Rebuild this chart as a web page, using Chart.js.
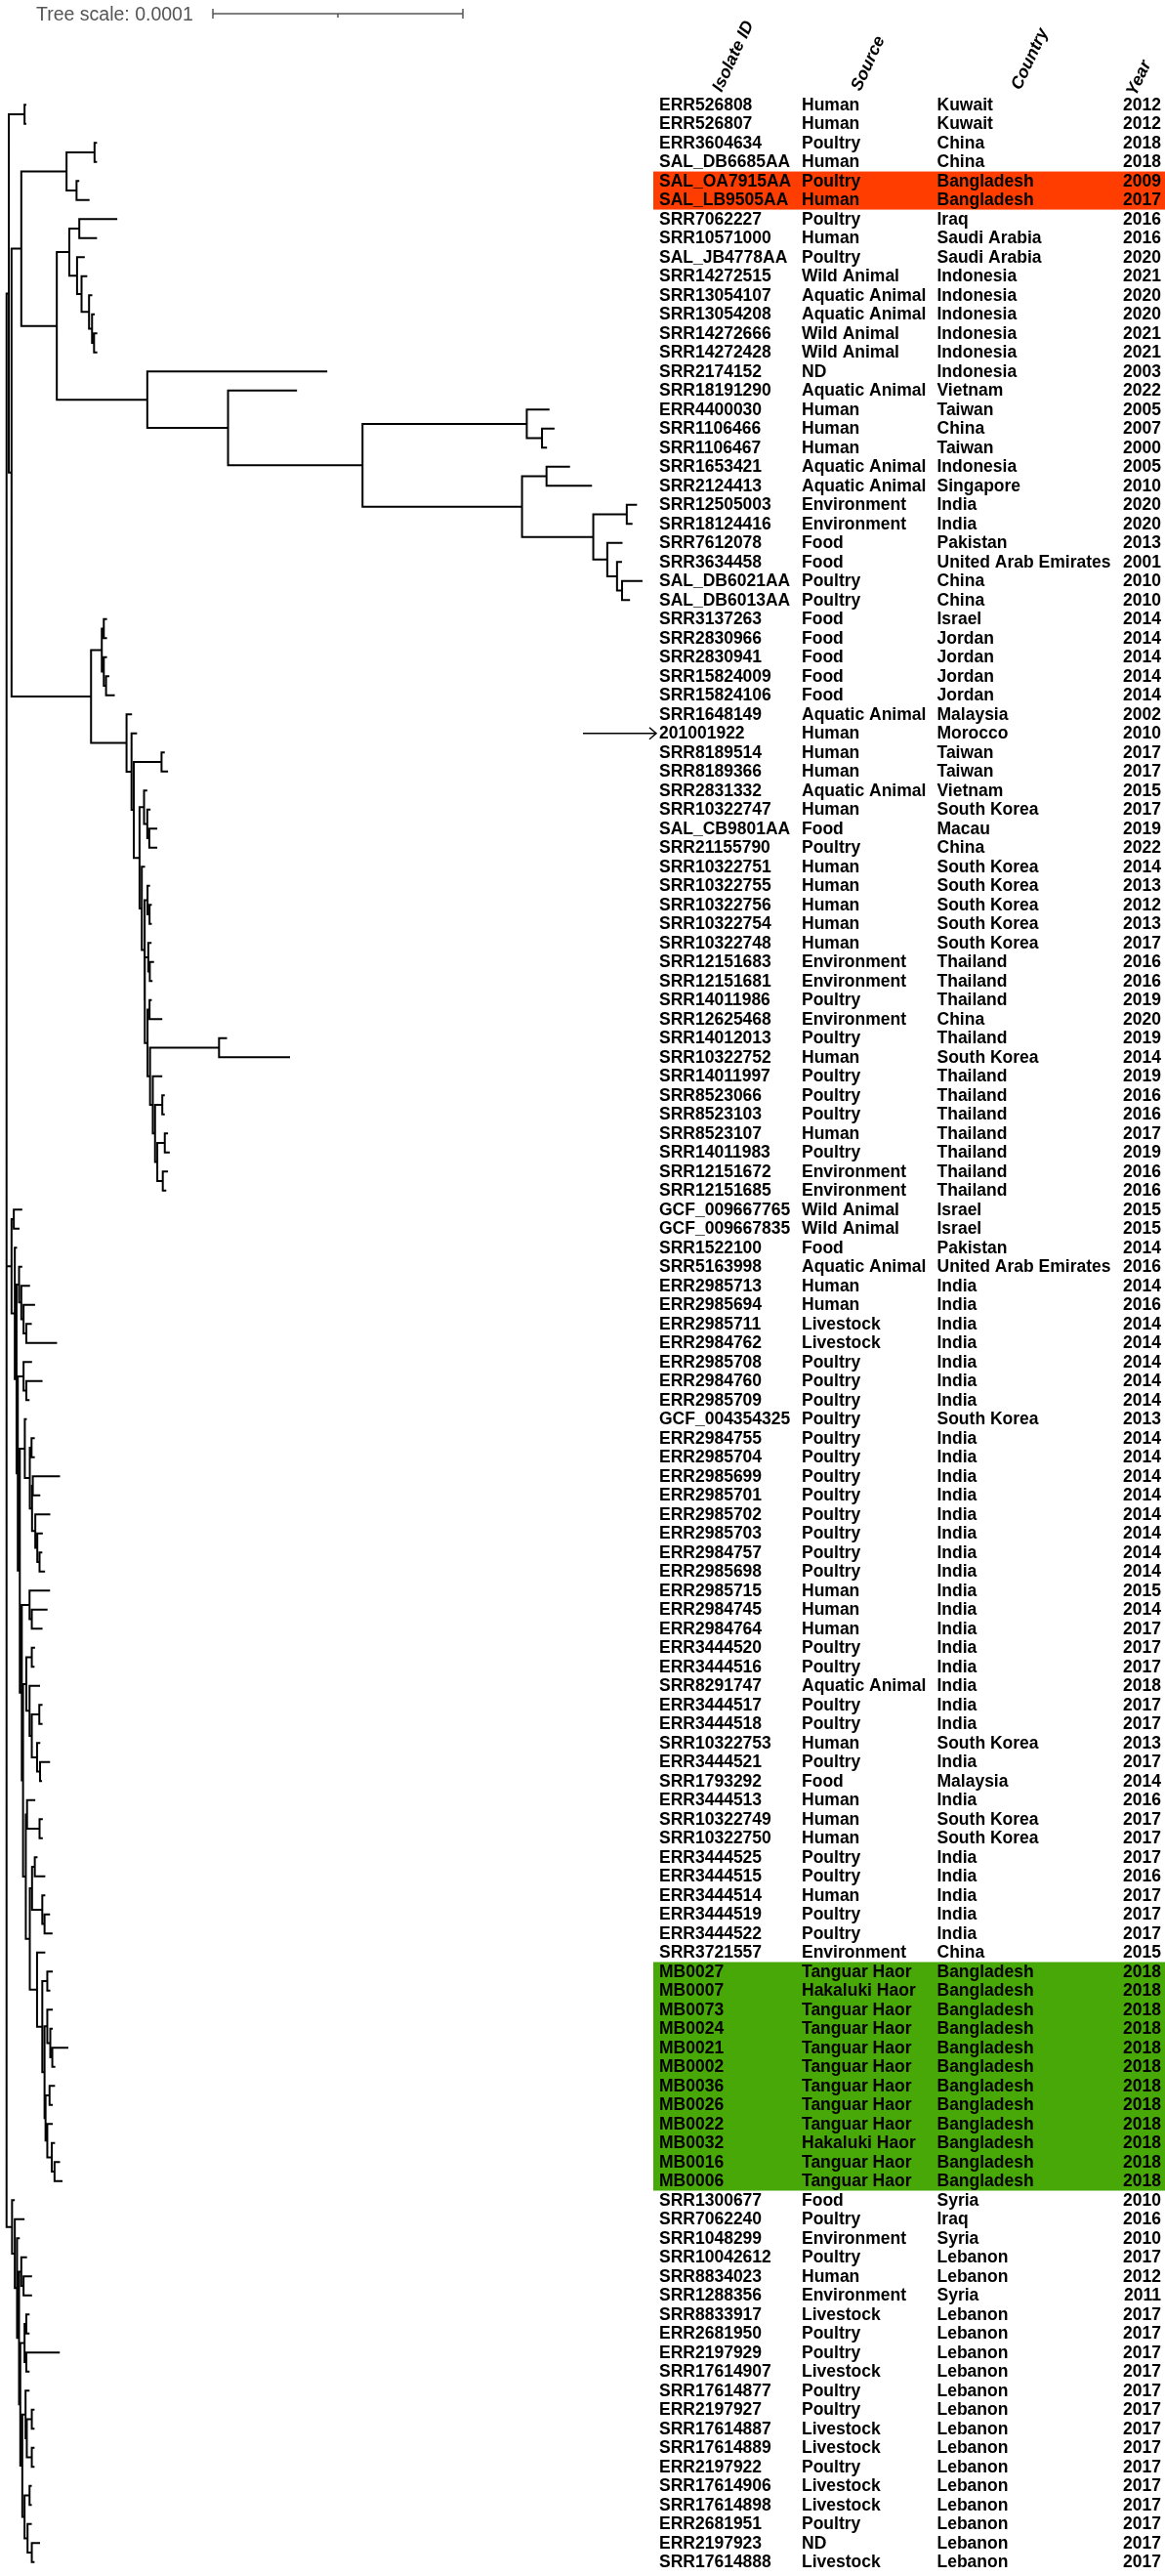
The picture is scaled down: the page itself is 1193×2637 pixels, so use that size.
<!DOCTYPE html>
<html>
<head>
<meta charset="utf-8">
<script src="https://cdn.jsdelivr.net/npm/chart.js@4.4.1/dist/chart.umd.min.js"></script>
<style>
  html, body { margin: 0; padding: 0; background: #fff; overflow: hidden; }
  #wrap { position: relative; width: 1193px; height: 2637px; }
</style>
</head>
<body>
<div id="wrap"><canvas id="treeChart"></canvas></div>
<script>
// tip labels, top to bottom
const isolateIds = ["ERR526808","ERR526807","ERR3604634","SAL_DB6685AA","SAL_OA7915AA","SAL_LB9505AA","SRR7062227","SRR10571000","SAL_JB4778AA","SRR14272515",
  "SRR13054107","SRR13054208","SRR14272666","SRR14272428","SRR2174152","SRR18191290","ERR4400030","SRR1106466","SRR1106467","SRR1653421",
  "SRR2124413","SRR12505003","SRR18124416","SRR7612078","SRR3634458","SAL_DB6021AA","SAL_DB6013AA","SRR3137263","SRR2830966","SRR2830941",
  "SRR15824009","SRR15824106","SRR1648149","201001922","SRR8189514","SRR8189366","SRR2831332","SRR10322747","SAL_CB9801AA","SRR21155790",
  "SRR10322751","SRR10322755","SRR10322756","SRR10322754","SRR10322748","SRR12151683","SRR12151681","SRR14011986","SRR12625468","SRR14012013",
  "SRR10322752","SRR14011997","SRR8523066","SRR8523103","SRR8523107","SRR14011983","SRR12151672","SRR12151685","GCF_009667765","GCF_009667835",
  "SRR1522100","SRR5163998","ERR2985713","ERR2985694","ERR2985711","ERR2984762","ERR2985708","ERR2984760","ERR2985709","GCF_004354325",
  "ERR2984755","ERR2985704","ERR2985699","ERR2985701","ERR2985702","ERR2985703","ERR2984757","ERR2985698","ERR2985715","ERR2984745",
  "ERR2984764","ERR3444520","ERR3444516","SRR8291747","ERR3444517","ERR3444518","SRR10322753","ERR3444521","SRR1793292","ERR3444513",
  "SRR10322749","SRR10322750","ERR3444525","ERR3444515","ERR3444514","ERR3444519","ERR3444522","SRR3721557","MB0027","MB0007",
  "MB0073","MB0024","MB0021","MB0002","MB0036","MB0026","MB0022","MB0032","MB0016","MB0006",
  "SRR1300677","SRR7062240","SRR1048299","SRR10042612","SRR8834023","SRR1288356","SRR8833917","ERR2681950","ERR2197929","SRR17614907",
  "SRR17614877","ERR2197927","SRR17614887","SRR17614889","ERR2197922","SRR17614906","SRR17614898","ERR2681951","ERR2197923","SRR17614888"];

const sources = ["Human","Human","Poultry","Human","Poultry","Human","Poultry","Human","Poultry","Wild Animal",
  "Aquatic Animal","Aquatic Animal","Wild Animal","Wild Animal","ND","Aquatic Animal","Human","Human","Human","Aquatic Animal",
  "Aquatic Animal","Environment","Environment","Food","Food","Poultry","Poultry","Food","Food","Food",
  "Food","Food","Aquatic Animal","Human","Human","Human","Aquatic Animal","Human","Food","Poultry",
  "Human","Human","Human","Human","Human","Environment","Environment","Poultry","Environment","Poultry",
  "Human","Poultry","Poultry","Poultry","Human","Poultry","Environment","Environment","Wild Animal","Wild Animal",
  "Food","Aquatic Animal","Human","Human","Livestock","Livestock","Poultry","Poultry","Poultry","Poultry",
  "Poultry","Poultry","Poultry","Poultry","Poultry","Poultry","Poultry","Poultry","Human","Human",
  "Human","Poultry","Poultry","Aquatic Animal","Poultry","Poultry","Human","Poultry","Food","Human",
  "Human","Human","Poultry","Poultry","Human","Poultry","Poultry","Environment","Tanguar Haor","Hakaluki Haor",
  "Tanguar Haor","Tanguar Haor","Tanguar Haor","Tanguar Haor","Tanguar Haor","Tanguar Haor","Tanguar Haor","Hakaluki Haor","Tanguar Haor","Tanguar Haor",
  "Food","Poultry","Environment","Poultry","Human","Environment","Livestock","Poultry","Poultry","Livestock",
  "Poultry","Poultry","Livestock","Livestock","Poultry","Livestock","Livestock","Poultry","ND","Livestock"];

const countries = ["Kuwait","Kuwait","China","China","Bangladesh","Bangladesh","Iraq","Saudi Arabia","Saudi Arabia","Indonesia",
  "Indonesia","Indonesia","Indonesia","Indonesia","Indonesia","Vietnam","Taiwan","China","Taiwan","Indonesia",
  "Singapore","India","India","Pakistan","United Arab Emirates","China","China","Israel","Jordan","Jordan",
  "Jordan","Jordan","Malaysia","Morocco","Taiwan","Taiwan","Vietnam","South Korea","Macau","China",
  "South Korea","South Korea","South Korea","South Korea","South Korea","Thailand","Thailand","Thailand","China","Thailand",
  "South Korea","Thailand","Thailand","Thailand","Thailand","Thailand","Thailand","Thailand","Israel","Israel",
  "Pakistan","United Arab Emirates","India","India","India","India","India","India","India","South Korea",
  "India","India","India","India","India","India","India","India","India","India",
  "India","India","India","India","India","India","South Korea","India","Malaysia","India",
  "South Korea","South Korea","India","India","India","India","India","China","Bangladesh","Bangladesh",
  "Bangladesh","Bangladesh","Bangladesh","Bangladesh","Bangladesh","Bangladesh","Bangladesh","Bangladesh","Bangladesh","Bangladesh",
  "Syria","Iraq","Syria","Lebanon","Lebanon","Syria","Lebanon","Lebanon","Lebanon","Lebanon",
  "Lebanon","Lebanon","Lebanon","Lebanon","Lebanon","Lebanon","Lebanon","Lebanon","Lebanon","Lebanon"];

const years = [2012,2012,2018,2018,2009,2017,2016,2016,2020,2021,
  2020,2020,2021,2021,2003,2022,2005,2007,2000,2005,
  2010,2020,2020,2013,2001,2010,2010,2014,2014,2014,
  2014,2014,2002,2010,2017,2017,2015,2017,2019,2022,
  2014,2013,2012,2013,2017,2016,2016,2019,2020,2019,
  2014,2019,2016,2016,2017,2019,2016,2016,2015,2015,
  2014,2016,2014,2016,2014,2014,2014,2014,2014,2013,
  2014,2014,2014,2014,2014,2014,2014,2014,2015,2014,
  2017,2017,2017,2018,2017,2017,2013,2017,2014,2016,
  2017,2017,2017,2016,2017,2017,2017,2015,2018,2018,
  2018,2018,2018,2018,2018,2018,2018,2018,2018,2018,
  2010,2016,2010,2017,2012,2011,2017,2017,2017,2017,
  2017,2017,2017,2017,2017,2017,2017,2017,2017,2017];

const columnHeaders = ["Isolate ID", "Source", "Country", "Year"];
const redIsolates = ["SAL_OA7915AA", "SAL_LB9505AA"];
const greenIsolates = ["MB0027","MB0007","MB0073","MB0024","MB0021","MB0002","MB0036","MB0026","MB0022","MB0032","MB0016","MB0006"];
const arrowIsolate = "201001922";

// tree scale bar (substitutions/site); branch lengths below are in units of 1e-6
const treeScaleValue = 0.0001;
const branchUnit = 1e-6;

// subtrees in newick, branch lengths
const cladeAsia = "((ERR4400030:9.1,(SRR1106466:5.0,SRR1106467:2.0):6.1):65.7,((SRR1653421:9.4,SRR2124413:18.2):9.8,((SRR12505003:4.1,SRR18124416:2.3):13.4,(SRR7612078:6.1,(SRR3634458:2.0,(SAL_DB6021AA:8.2,SAL_DB6013AA:3.2):2.0):3.9):5.6):28.5):63.8)";
const cladeTop = "(((ERR3604634:1.0,SAL_DB6685AA:1.0):11.2,(SAL_OA7915AA:1.1,SAL_LB9505AA:5.2):4.0):18.1,"
  + "(((SRR7062227:15.2,SRR10571000:7.1):4.0,(SAL_JB4778AA:3.1,(SRR14272515:2.3,(SRR13054107:1.3,(SRR13054208:1.1,(SRR14272666:1.3,SRR14272428:1.3):0.8):1.2):3.0):1.8):3.1):5.0,"
  + "(SRR2174152:72.0,(SRR18191290:27.6," + cladeAsia + ":53.8):32.3):36.2):14.2)";
const cladeThai = "((SRR14012013:3.2,SRR10322752:28.4):27.6,(SRR14011997:3.8,((SRR8523066:1.0,SRR8523103:1.0):2.9,((SRR8523107:1.3,SRR14011983:2.0):3.0,(SRR12151672:2.1,SRR12151685:1.4):2.2):0.9):0.9):1.1)";
const cladeKorea = "((SRR2831332:1.3,(SRR10322747:1.3,(SAL_CB9801AA:3.2,SRR21155790:3.2):0.8):1.3):1.8,"
  + "(SRR10322751:1.3,((SRR10322755:1.0,(SRR10322756:0.9,SRR10322754:0.9):0.8):1.2,"
  + "((SRR10322748:1.3,(SRR12151683:1.7,SRR12151681:1.1):0.6):1.4,((SRR14011986:0.9,SRR12625468:5.1):0.8," + cladeThai + ":1.0):1.1):0.1):1.1):0.9)";
const cladeJordan = "(((SRR3137263:1.3,SRR2830966:1.3):0.8,(SRR2830941:1.3,(SRR15824009:1.3,SRR15824106:3.5):0.9):0.8):4.3,"
  + "(SRR1648149:2.2,(201001922:2.2,((SRR8189514:1.3,SRR8189366:2.6):11.1," + cladeKorea + ":2.3):0.9):2.0):14.2)";
const cladeHaor = "((MB0027:2.2,MB0007:1.2):2.0,((MB0073:2.2,(MB0024:1.0,(MB0021:6.4,MB0002:1.2):0.8):1.2):1.1,((MB0036:2.2,MB0026:1.3):1.6,(MB0022:2.2,(MB0032:1.3,(MB0016:2.2,MB0006:3.2):1.1):1.8):0.7):0.4):0.9)";
const cladeIndia = "((GCF_009667765:3.4,GCF_009667835:2.3):0.9,(SRR1522100:0.9,((SRR5163998:1.3,(ERR2985713:3.5,(ERR2985694:4.6,(ERR2985711:2.2,ERR2984762:12.3):1.1):0.9):0.9):1.0,"
  + "((ERR2985708:3.4,(ERR2984760:6.5,ERR2985709:1.3):1.1):2.3,"
  + "((GCF_004354325:0.8,((ERR2984755:1.3,ERR2985704:1.3):0.7,((ERR2985699:10.9,ERR2985701:3.0):0.3,(ERR2985702:6.0,(ERR2985703:2.2,(ERR2984757:1.1,ERR2985698:2.2):0.9):0.8):1.3):0.9):2.0):2.0,"
  + "((ERR2985715:8.2,(ERR2984745:6.3,ERR2984764:4.3):0.9):3.1,"
  + "(((ERR3444520:1.3,ERR3444516:1.1):2.2,(SRR8291747:4.2,((ERR3444517:1.3,ERR3444518:1.3):3.0,(SRR10322753:1.3,(ERR3444521:4.0,SRR1793292:0.8):1.2):2.1):0.9):1.3):1.3,"
  + "((ERR3444513:3.3,(SRR10322749:1.3,SRR10322750:1.3):5.0):0.5,"
  + "(((ERR3444525:1.1,ERR3444515:4.2):1.1,(ERR3444514:1.2,(ERR3444519:2.2,ERR3444522:3.2):0.9):4.1):0.9,(SRR3721557:3.3," + cladeHaor + ":2.1):2.9):1.6):1.1):0.5):0.8):0.8):0.5):0.7):1.3)";
const cladeLevant = "(SRR1300677:1.1,(SRR7062240:3.9,(SRR1048299:1.1,((SRR10042612:2.3,(SRR8834023:3.4,SRR1288356:3.4):0.9):0.9,"
  + "(((SRR8833917:1.3,ERR2681950:1.3):0.7,(ERR2197929:13.4,SRR17614907:1.3):0.7):1.7,"
  + "((SRR17614877:1.6,((ERR2197927:1.1,SRR17614887:1.1):2.0,(SRR17614889:1.1,ERR2197922:1.1):2.0):0.5):1.3,"
  + "((SRR17614906:0.9,SRR17614898:0.9):2.0,(ERR2681951:1.7,(ERR2197923:3.3,SRR17614888:1.1):1.7):1.2):0.9):0.8):0.5):0.8):0.9):1.1)";

const treeNewick = "(((ERR526808:0.7,ERR526807:0.7):6.3,(" + cladeTop + ":3.9," + cladeJordan + ":31.8):1.1):0.9,"
  + cladeIndia + ":2.0," + cladeLevant + ":2.2);";

function parseNewick(s) {
  let i = 0;
  function node() {
    const n = { name: "", len: 0, children: [] };
    if (s[i] === "(") {
      i++;
      n.children.push(node());
      while (s[i] === ",") { i++; n.children.push(node()); }
      i++; // ")"
    }
    let name = "";
    while (i < s.length && ",():;".indexOf(s[i]) < 0) name += s[i++];
    n.name = name.trim();
    if (s[i] === ":") {
      i++;
      let num = "";
      while (i < s.length && ",();".indexOf(s[i]) < 0) num += s[i++];
      n.len = parseFloat(num);
    }
    return n;
  }
  return node();
}

function layoutTree(n, x0) {
  n.x = x0 + n.len;
  if (n.children.length === 0) {
    n.y = isolateIds.indexOf(n.name);
    if (n.y < 0) console.warn("missing tip", n.name);
  } else {
    n.children.forEach((c) => layoutTree(c, n.x));
    n.y = (n.children[0].y + n.children[n.children.length - 1].y) / 2;
  }
}

function treeSegments(n, pts) {
  if (n.children.length === 0) return;
  const first = n.children[0];
  const last = n.children[n.children.length - 1];
  pts.push({ x: first.x, y: first.y }, { x: n.x, y: first.y }, { x: n.x, y: last.y }, { x: last.x, y: last.y }, { x: NaN, y: NaN });
  n.children.slice(1, -1).forEach((c) => {
    pts.push({ x: n.x, y: c.y }, { x: c.x, y: c.y }, { x: NaN, y: NaN });
  });
  n.children.forEach((c) => treeSegments(c, pts));
}

const root = parseNewick(treeNewick);
root.len = 0;
layoutTree(root, 0);
const treePoints = [];
treeSegments(root, treePoints);

const FONT = '"Liberation Sans", Arial, sans-serif';

const tablePlugin = {
  id: "tablePlugin",
  beforeDatasetsDraw(chart) {
    const c = chart.ctx;
    const ys = chart.scales.y;
    const half = (ys.getPixelForValue(1) - ys.getPixelForValue(0)) / 2;
    const band = (ids, color) => {
      const rows = ids.map((id) => isolateIds.indexOf(id));
      const top = ys.getPixelForValue(Math.min(...rows)) - half;
      const bot = ys.getPixelForValue(Math.max(...rows)) + half;
      c.fillStyle = color;
      c.fillRect(669, top, chart.width - 669, bot - top);
    };
    c.save();
    band(redIsolates, "#ff3d00");
    band(greenIsolates, "#48a808");
    c.restore();
  },
  afterDatasetsDraw(chart) {
    const c = chart.ctx;
    const xs = chart.scales.x;
    const ys = chart.scales.y;
    c.save();

    // tree scale
    c.fillStyle = "#555";
    c.strokeStyle = "#555";
    c.font = "19.5px " + FONT;
    c.textBaseline = "alphabetic";
    c.textAlign = "left";
    c.fillText("Tree scale: " + treeScaleValue, 37, 21);
    const barLen = xs.getPixelForValue(treeScaleValue / branchUnit) - xs.getPixelForValue(0);
    const bx = 218, by = 14;
    c.lineWidth = 1.5;
    c.beginPath();
    c.moveTo(bx, by); c.lineTo(bx + barLen, by);
    c.moveTo(bx, by - 5); c.lineTo(bx, by + 5);
    c.moveTo(bx + barLen, by - 5); c.lineTo(bx + barLen, by + 5);
    c.moveTo(bx + barLen / 2, by); c.lineTo(bx + barLen / 2, by + 4);
    c.stroke();

    // headers
    c.fillStyle = "#000";
    c.font = "italic bold 17.5px " + FONT;
    const headerAnchors = [[739, 95], [881, 94], [1045, 93], [1163, 99]];
    columnHeaders.forEach((h, k) => {
      c.save();
      c.translate(headerAnchors[k][0], headerAnchors[k][1]);
      c.rotate(-65 * Math.PI / 180);
      c.fillText(h, 0, 0);
      c.restore();
    });

    // rows
    c.font = "bold 17.5px " + FONT;
    c.textBaseline = "middle";
    isolateIds.forEach((id, i) => {
      const y = ys.getPixelForValue(i) + 0.5;
      c.textAlign = "left";
      c.fillText(id, 675, y);
      c.fillText(sources[i], 821, y);
      c.fillText(countries[i], 959.5, y);
      c.textAlign = "right";
      c.fillText(String(years[i]), 1189, y);
    });

    // arrow to marked isolate
    const ay = ys.getPixelForValue(isolateIds.indexOf(arrowIsolate));
    c.strokeStyle = "#000";
    c.lineWidth = 1.5;
    c.beginPath();
    c.moveTo(597, ay); c.lineTo(672, ay);
    c.moveTo(665, ay - 6); c.lineTo(672, ay); c.lineTo(665, ay + 6);
    c.stroke();
    c.restore();
  }
};

const ctx = document.getElementById("treeChart");
new Chart(ctx, {
  type: "scatter",
  data: {
    datasets: [{
      data: treePoints,
      showLine: true,
      spanGaps: false,
      borderColor: "#000",
      borderWidth: 2,
      pointRadius: 0,
      pointHoverRadius: 0,
      fill: false,
    }],
  },
  options: {
    responsive: true,
    maintainAspectRatio: false,
    animation: false,
    events: [],
    layout: { padding: 0 },
    plugins: { legend: { display: false }, tooltip: { enabled: false } },
    scales: {
      x: { type: "linear", display: false, min: -2.62, max: 463.4 },
      y: { type: "linear", display: false, reverse: true, min: -5.503, max: 129.73 },
    },
  },
  plugins: [tablePlugin],
});
</script>
</body>
</html>
